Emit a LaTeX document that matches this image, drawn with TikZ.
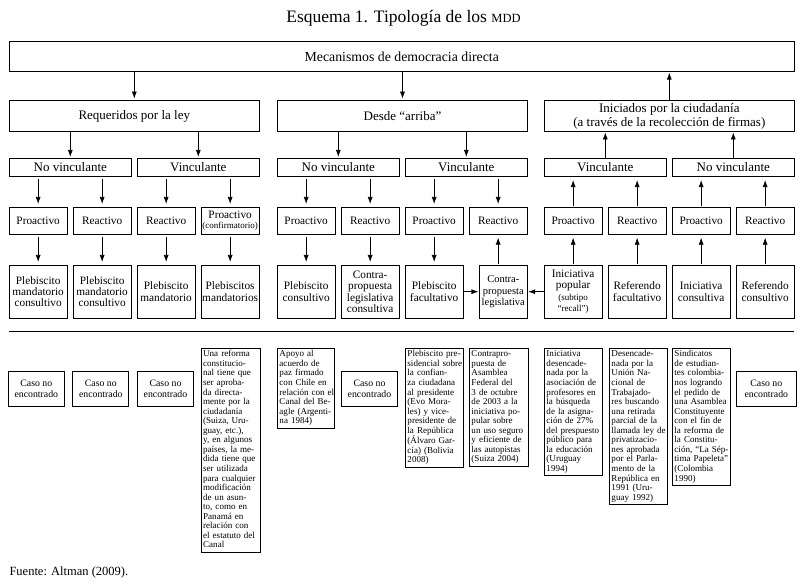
\documentclass[tikz,border=0pt]{standalone}
\usepackage{fontspec}
\setmainfont{Liberation Serif}
\usetikzlibrary{arrows.meta}
\begin{document}
\begin{tikzpicture}[x=1pt,y=-1pt,
  box/.style={draw, line width=0.75pt, inner sep=1pt, align=center},
  topbox/.style={box, minimum width=785pt, minimum height=30pt, font=\fontsize{13.8}{15}\selectfont},
  lvtwo/.style={box, minimum width=250pt, minimum height=31pt, font=\fontsize{13}{14}\selectfont},
  lvthree/.style={box, minimum width=122pt, minimum height=18.4pt, font=\fontsize{13}{14}\selectfont},
  lvfour/.style={box, minimum width=57.7pt, minimum height=27pt, font=\fontsize{11.3}{11.5}\selectfont},
  lvfive/.style={box, minimum width=57.7pt, minimum height=52.7pt, font=\fontsize{11.3}{11.3}\selectfont},
  casebox/.style={box, minimum width=56pt, minimum height=34.6pt, font=\fontsize{9.8}{11.3}\selectfont},
  txtbox/.style={draw, line width=0.75pt, anchor=north west, inner xsep=1.8pt, inner ysep=1.5pt,
     minimum width=57.7pt, text width=54.1pt, align=left, font=\fontsize{9.05}{9.55}\selectfont},
  arr/.style={-{Latex[length=7pt,width=5pt]}, line width=0.7pt},
  arrd/.style={arr, shorten <=2pt, shorten >=3pt},
  arru/.style={arr, shorten <=0.5pt, shorten >=3pt}
]
\useasboundingbox (0,0) rectangle (807,588);

% title
\node[font=\fontsize{17.5}{19}\selectfont] (title) at (403.5,18) {Esquema 1. Tipología de los {\fontsize{12.5}{14}\selectfont MDD}};

% level 1
\node[topbox] (top) at (401.8,56.7) {Mecanismos de democracia directa};

% level 2
\node[lvtwo] (A) at (134.3,116) {Requeridos por la ley};
\node[lvtwo] (B) at (402.5,116) {Desde “arriba”};
\node[lvtwo] (C) at (669.3,116) {Iniciados por la ciudadanía\\(a través de la recolección de firmas)};

% level 3
\node[lvthree] (A1) at (70.3,167.5) {No vinculante};
\node[lvthree] (A2) at (198.3,167.5) {Vinculante};
\node[lvthree] (B1) at (338.3,167.5) {No vinculante};
\node[lvthree] (B2) at (466.3,167.5) {Vinculante};
\node[lvthree] (C1) at (605.3,167.5) {Vinculante};
\node[lvthree] (C2) at (733.3,167.5) {No vinculante};

% level 4
\node[lvfour] (a1) at (38.15,220.8) {Proactivo};
\node[lvfour] (a2) at (102.15,220.8) {Reactivo};
\node[lvfour] (a3) at (166.15,220.8) {Reactivo};
\node[lvfour] (a4) at (230.15,220.8) {Proactivo\\[-1pt]{\fontsize{9}{9.5}\selectfont (confirmatorio)}};
\node[lvfour] (b1) at (306.15,220.8) {Proactivo};
\node[lvfour] (b2) at (370.15,220.8) {Reactivo};
\node[lvfour] (b3) at (434.15,220.8) {Proactivo};
\node[lvfour] (b4) at (498.15,220.8) {Reactivo};
\node[lvfour] (c1) at (573.15,220.8) {Proactivo};
\node[lvfour] (c2) at (637.15,220.8) {Reactivo};
\node[lvfour] (c3) at (701.15,220.8) {Proactivo};
\node[lvfour] (c4) at (765.15,220.8) {Reactivo};

% level 5
\node[lvfive] (p1) at (38.15,291.7) {Plebiscito\\mandatorio\\consultivo};
\node[lvfive] (p2) at (102.15,291.7) {Plebiscito\\mandatorio\\consultivo};
\node[lvfive] (p3) at (166.15,291.7) {Plebiscito\\mandatorio};
\node[lvfive] (p4) at (230.15,291.7) {Plebiscitos\\mandatorios};
\node[lvfive] (q1) at (306.15,291.7) {Plebiscito\\consultivo};
\node[lvfive] (q2) at (370.15,291.7) {Contra-\\propuesta\\legislativa\\consultiva};
\node[lvfive] (q3) at (434.15,291.7) {Plebiscito\\facultativo};
\node[lvfive, minimum width=48pt, font=\fontsize{10.5}{11.3}\selectfont] (q4) at (503.3,291.7) {Contra-\\propuesta\\legislativa};
\node[lvfive] (r1) at (573.15,291.7) {Iniciativa\\popular\\{\fontsize{9}{10}\selectfont (subtipo}\\{\fontsize{9}{10}\selectfont “recall”)}};
\node[lvfive] (r2) at (637.15,291.7) {Referendo\\facultativo};
\node[lvfive] (r3) at (701.15,291.7) {Iniciativa\\consultiva};
\node[lvfive] (r4) at (765.15,291.7) {Referendo\\consultivo};

% arrows level 1-2
\draw[arr, shorten >=1.5pt] (top.south -| A) -- (A.north);
\draw[arr, shorten >=1.5pt] (top.south -| B) -- (B.north);
\draw[arr, shorten >=0.5pt] (C.north) -- (top.south -| C);

% arrows level 2-3
\draw[arr, shorten >=1pt] (A.south -| A1) -- (A1.north);
\draw[arr, shorten >=1pt] (A.south -| A2) -- (A2.north);
\draw[arr, shorten >=1pt] (B.south -| B1) -- (B1.north);
\draw[arr, shorten >=1pt] (B.south -| B2) -- (B2.north);
\draw[arr, shorten >=0.5pt] (C1.north) -- (C.south -| C1);
\draw[arr, shorten >=0.5pt] (C2.north) -- (C.south -| C2);

% arrows level 3-4
\foreach \u/\l in {A1/a1, A1/a2, A2/a3, A2/a4, B1/b1, B1/b2, B2/b3, B2/b4}
  \draw[arrd] (\u.south -| \l) -- (\l.north);
\foreach \u/\l in {C1/c1, C1/c2, C2/c3, C2/c4}
  \draw[arru] (\l.north) -- (\u.south -| \l);

% arrows level 4-5
\foreach \u/\l in {a1/p1, a2/p2, a3/p3, a4/p4, b1/q1, b2/q2, b3/q3}
  \draw[arrd] (\u.south) -- (\l.north -| \u);
\foreach \u/\l in {b4/q4, c1/r1, c2/r2, c3/r3, c4/r4}
  \draw[arru] (\l.north -| \u) -- (\u.south);
\draw[arr, shorten >=0.5pt] (q3.east) -- (q4.west);
\draw[arr, shorten >=0.5pt] (r1.west) -- (q4.east);

% separator
\coordinate (sepL) at (9.3,331.7);
\coordinate (sepR) at (794.3,331.7);
\draw[line width=0.75pt] (sepL) -- (sepR);

% bottom cases
\node[casebox] (k1) at (36.3,389) {Caso no\\encontrado};
\node[casebox] (k2) at (100.8,389) {Caso no\\encontrado};
\node[casebox] (k3) at (165.5,389) {Caso no\\encontrado};
\node[casebox] (k4) at (369.5,389) {Caso no\\encontrado};
\node[casebox, minimum width=60pt] (k5) at (766.3,389) {Caso no\\encontrado};

\node[txtbox, minimum width=59pt, text width=55.4pt] (t1) at (201,348.3) {\begin{tabular}{@{}l@{}}Una reforma\\constitucio-\\nal tiene que\\ser aproba-\\da directa-\\mente por la\\ciudadanía\\(Suiza, Uru-\\guay, etc.),\\y, en algunos\\países, la me-\\dida tiene que\\ser utilizada\\para cualquier\\modificación\\de un asun-\\to, como en\\Panamá en\\relación con\\el estatuto del\\Canal\end{tabular}};

\node[txtbox, minimum width=56.7pt, text width=53.1pt] (t2) at (277.3,348.3) {\begin{tabular}{@{}l@{}}Apoyo al\\acuerdo de\\paz firmado\\con Chile en\\relación con el\\Canal del Be-\\agle (Argenti-\\na 1984)\end{tabular}};

\node[txtbox] (t3) at (405.3,348.3) {\begin{tabular}{@{}l@{}}Plebiscito pre-\\sidencial sobre\\la confian-\\za ciudadana\\al presidente\\(Evo Mora-\\les) y vice-\\presidente de\\la República\\(Álvaro Gar-\\cía) (Bolivia\\2008)\end{tabular}};

\node[txtbox, minimum width=59pt, text width=55.4pt] (t4) at (469.3,348.3) {\begin{tabular}{@{}l@{}}Contrapro-\\puesta de\\Asamblea\\Federal del\\3 de octubre\\de 2003 a la\\iniciativa po-\\pular sobre\\un uso seguro\\y eficiente de\\las autopistas\\(Suiza 2004)\end{tabular}};

\node[txtbox] (t5) at (544.3,348.3) {\begin{tabular}{@{}l@{}}Iniciativa\\desencade-\\nada por la\\asociación de\\profesores en\\la búsqueda\\de la asigna-\\ción de 27\%\\del prespuesto\\público para\\la educación\\(Uruguay\\1994)\end{tabular}};

\node[txtbox] (t6) at (609.3,348.3) {\begin{tabular}{@{}l@{}}Desencade-\\nada por la\\Unión Na-\\cional de\\Trabajado-\\res buscando\\una retirada\\parcial de la\\llamada ley de\\privatizacio-\\nes aprobada\\por el Parla-\\mento de la\\República en\\1991 (Uru-\\guay 1992)\end{tabular}};

\node[txtbox] (t7) at (672.3,348.3) {\begin{tabular}{@{}l@{}}Sindicatos\\de estudian-\\tes colombia-\\nos logrando\\el pedido de\\una Asamblea\\Constituyente\\con el fin de\\la reforma de\\la Constitu-\\ción, “La Sép-\\tima Papeleta”\\(Colombia\\1990)\end{tabular}};

% source
\node[anchor=west, font=\fontsize{12.5}{14}\selectfont, inner sep=0pt] (src) at (9.3,572) {Fuente: Altman (2009).};
\end{tikzpicture}
\end{document}
